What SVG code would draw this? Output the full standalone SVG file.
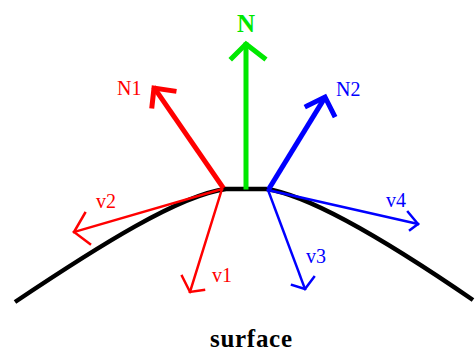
<svg xmlns="http://www.w3.org/2000/svg" width="475" height="352" viewBox="0 0 475 352">
<style>
.lbl{font-family:"Liberation Serif","DejaVu Serif",serif;font-size:20px}
.big{font-size:25px;font-weight:bold}
.thick{fill:none;stroke-width:5;stroke-linecap:square;stroke-linejoin:miter}
.thin{fill:none;stroke-width:2.5;stroke-linecap:square;stroke-linejoin:miter}
.red{stroke:#ff0000}.blue{stroke:#0000ff}.green{stroke:#00e800}
</style>
<rect width="475" height="352" fill="#ffffff"/>
<g id="surface">
<path d="M15,302 C100,245 180,195 226,189 L266,189 C310,195 390,243 473,300" fill="none" stroke="#000" stroke-width="4.5"/>
<text class="lbl big" x="251" y="347" text-anchor="middle" textLength="82" fill="#000">surface</text>
</g>
<g id="connectors">
<g id="N">
<path class="thick green" d="M246,187 L246,45" stroke-width="4.5"/>
<path class="thick green" d="M232,58 L246,44 L264,58" stroke-width="4.5"/>
</g>
<g id="N1">
<path class="thick red" d="M222,186 L155,89"/>
<path class="thick red" d="M152,106 L154,88 L174,91"/>
</g>
<g id="N2">
<path class="thick blue" d="M270,187 L324,99" stroke-width="6"/>
<path class="thick blue" d="M307,106 L325,97 L334,115" stroke-width="5"/>
</g>
<g id="v1">
<path class="thin red" d="M222,189 L190,292"/>
<path class="thin red" d="M182,276 L190,292 L204,290"/>
</g>
<g id="v2">
<path class="thin red" d="M222,189 L74,232"/>
<path class="thin red" d="M85,213 L74,232 L90,244"/>
</g>
<g id="v3">
<path class="thin blue" d="M268,190 L305,289"/>
<path class="thin blue" d="M292,285 L305,289 L314,277"/>
</g>
<g id="v4">
<path class="thin blue" d="M268,190 L418,224"/>
<path class="thin blue" d="M408,212 L418,224 L410,230"/>
</g>
</g>
<g id="labels">
<text class="lbl big" x="246" y="32" text-anchor="middle" fill="#00e800">N</text>
<text class="lbl" x="117" y="95" fill="#ff0000">N1</text>
<text class="lbl" x="336" y="96" fill="#0000ff">N2</text>
<text class="lbl" x="212" y="282" fill="#ff0000">v1</text>
<text class="lbl" x="96" y="208" fill="#ff0000">v2</text>
<text class="lbl" x="306" y="263" fill="#0000ff">v3</text>
<text class="lbl" x="386" y="207" fill="#0000ff">v4</text>
</g>
</svg>
